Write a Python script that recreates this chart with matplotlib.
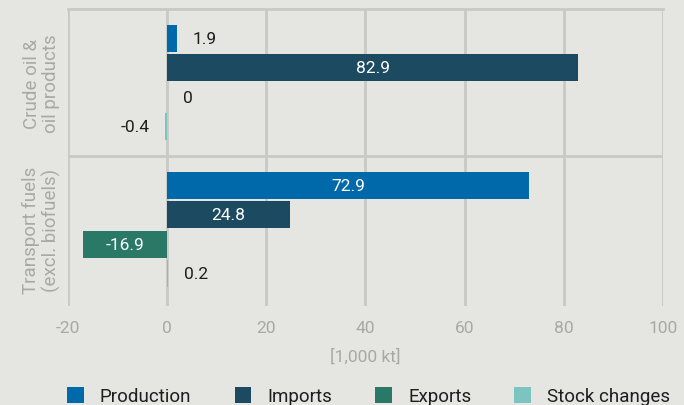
import matplotlib
matplotlib.use("Agg")
import matplotlib.pyplot as plt
import numpy as np
from matplotlib.patches import Patch

categories = ["Crude oil &\noil products", "Transport fuels\n(excl. biofuels)"]
series = ["Production", "Imports", "Exports", "Stock changes"]
production = [1.9, 72.9]
imports = [82.9, 24.8]
exports = [0, -16.9]
stock_changes = [-0.4, 0.2]
colors = ["#0069a9", "#1c4a61", "#2a7866", "#7bc4bf"]
xticks = [-20, 0, 20, 40, 60, 80, 100]

plt.rcParams["font.family"] = ["Roboto", "DejaVu Sans"]
bg = "#e5e5e1"
grid_c = "#c8c8c6"
tick_c = "#a8a8a6"
dark = "#1e1e1e"
fig = plt.figure(figsize=(6.84, 4.06), dpi=100, facecolor=bg)
ax = fig.add_axes([0.0994, 0.2438, 0.8699, 0.7316], facecolor=bg)

data = [production, imports, exports, stock_changes]
n = len(categories)
y = np.arange(n)
offsets = [-0.3, -0.1, 0.1, 0.3]
h = 0.184
for s, vals, col, off in zip(series, data, colors, offsets):
    bars = ax.barh(y + off, vals, height=h, color=col, label=s, zorder=3)
    for b, v in zip(bars, vals):
        cy = b.get_y() + b.get_height() / 2
        txt = f"{v:g}"
        if abs(v) >= 10:
            ax.text(v / 2, cy, txt, ha="center", va="center", color="white", fontsize=12.5, zorder=4)
        elif v < 0:
            ax.text(v - 3.2, cy, txt, ha="right", va="center", color=dark, fontsize=12.5, zorder=4)
        else:
            ax.text(v + 3.2, cy, txt, ha="left", va="center", color=dark, fontsize=12.5, zorder=4)

ax.set_ylim(n - 0.5 + 0.02, -0.5)
ax.set_xlim(-20, 100)
ax.set_xticks(xticks)
ax.set_xticklabels([str(t) for t in xticks], color=tick_c, fontsize=12.5)
ax.tick_params(axis="x", length=0, pad=10)
ax.set_yticks(y)
ax.set_yticklabels(categories, rotation=90, va="center", ha="center", color=tick_c, fontsize=13.5, linespacing=1.1)
ax.tick_params(axis="y", length=0, pad=19)
ax.xaxis.grid(True, color=grid_c, linewidth=2, zorder=0)
ax.set_axisbelow(True)
for sp in ["left", "right", "bottom"]:
    ax.spines[sp].set_visible(False)
ax.spines["top"].set_color(grid_c)
ax.spines["top"].set_linewidth(2)
for k in range(n - 1):
    ax.axhline(k + 0.5, color=grid_c, linewidth=2, zorder=1)
ax.set_xlabel("[1,000 kt]", color=tick_c, fontsize=12.5, labelpad=9)

handles = [Patch(facecolor=c, label=s) for s, c in zip(series, colors)]
fig.legend(handles=handles, loc="center", bbox_to_anchor=(0.539, 0.022), ncol=4, frameon=False,
           fontsize=13.5, handlelength=0.9, handleheight=0.9, columnspacing=2.3, handletextpad=0.85,
           labelcolor=dark, borderpad=0)

fig.savefig("out.png", dpi=100, facecolor=bg)
